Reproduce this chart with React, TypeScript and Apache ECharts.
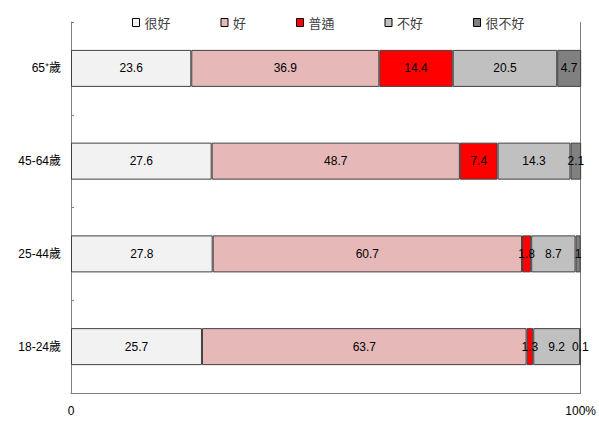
import React, { useEffect, useRef } from "react";
import * as echarts from "echarts";

const categories = ["65⁺歲", "45-64歲", "25-44歲", "18-24歲"];
const seriesNames = ["很好", "好", "普通", "不好", "很不好"];
const veryGood = [23.6, 27.6, 27.8, 25.7];
const good = [36.9, 48.7, 60.7, 63.7];
const normal = [14.4, 7.4, 1.8, 1.3];
const bad = [20.5, 14.3, 8.7, 9.2];
const veryBad = [4.7, 2.1, 1, 0.1];
const colors = ["#f2f2f2", "#e6b9b8", "#ff0000", "#c0c0c0", "#808080"];

const FONT = "'Liberation Sans Narrow', 'Liberation Sans', 'Noto Sans CJK TC', sans-serif";

export default function App() {
  const ref = useRef<HTMLDivElement>(null);
  useEffect(() => {
    if (!ref.current) return;
    const chart = echarts.init(ref.current, undefined, { renderer: "svg" });
    const values = [veryGood, good, normal, bad, veryBad];
    chart.setOption({
      animation: false,
      textStyle: { fontFamily: FONT },
      legend: {
        top: 11,
        left: 127,
        icon: "rect",
        itemWidth: 7,
        itemHeight: 8,
        itemGap: 50,
        itemTextGap: 4,
        textStyle: { fontSize: 13, color: "#404040", fontFamily: "'Noto Sans CJK TC', sans-serif" },
        itemStyle: { borderColor: "#000", borderWidth: 1 },
        data: seriesNames,
      },
      grid: { left: 71, right: 18, top: 22, bottom: 28 },
      xAxis: {
        type: "value",
        min: 0,
        max: 100,
        interval: 100,
        axisLine: { show: true, lineStyle: { color: "#808080" } },
        axisTick: { show: false },
        splitLine: { show: true, lineStyle: { color: "#808080" } },
        axisLabel: {
          margin: 12,
          fontSize: 12,
          color: "#000",
          fontFamily: FONT,
          formatter: (v: number) => (v === 100 ? "100%" : String(v)),
        },
      },
      yAxis: {
        type: "category",
        inverse: true,
        data: categories,
        axisLine: { show: true, lineStyle: { color: "#808080" } },
        axisTick: { show: true, inside: true, length: 3, lineStyle: { color: "#808080" } },
        axisLabel: { margin: 10, fontSize: 12, color: "#000", fontFamily: FONT },
      },
      series: seriesNames.map((name, i) => ({
        name,
        type: "bar",
        stack: "total",
        barWidth: 37,
        data: values[i],
        itemStyle: { color: colors[i], borderColor: "#404040", borderWidth: 1 },
        label: {
          show: true,
          position: "inside",
          color: "#000",
          fontSize: 12,
          fontFamily: FONT,
          formatter: (p: any) => String(p.value),
        },
      })),
    });
    return () => chart.dispose();
  }, []);
  return <div ref={ref} style={{ width: 599, height: 421, position: "absolute", left: 0, top: 0 }} />;
}
